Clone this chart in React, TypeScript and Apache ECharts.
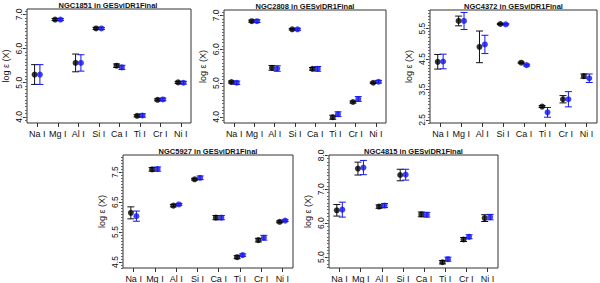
import React, { useEffect, useRef } from "react";
import * as echarts from "echarts";

const categories = ["Na I", "Mg I", "Al I", "Si I", "Ca I", "Ti I", "Cr I", "Ni I"];

const clusterNames = ["NGC1851", "NGC2808", "NGC4372", "NGC5927", "NGC4815"];

const ngc1851Black = [5.24, 6.85, 5.58, 6.59, 5.5, 4.03, 4.5, 5.01];
const ngc1851BlackErr = [0.29, 0.03, 0.26, 0.03, 0.05, 0.03, 0.03, 0.03];
const ngc1851Blue = [5.24, 6.85, 5.58, 6.59, 5.45, 4.04, 4.51, 5.0];
const ngc1851BlueErr = [0.29, 0.03, 0.24, 0.03, 0.06, 0.05, 0.04, 0.04];

const ngc2808Black = [5.03, 6.83, 5.45, 6.59, 5.42, 3.99, 4.44, 5.01];
const ngc2808BlackErr = [0.03, 0.03, 0.07, 0.02, 0.04, 0.06, 0.03, 0.02];
const ngc2808Blue = [5.01, 6.83, 5.43, 6.59, 5.42, 4.08, 4.53, 5.04];
const ngc2808BlueErr = [0.05, 0.04, 0.08, 0.03, 0.07, 0.07, 0.07, 0.04];

const ngc4372Black = [4.41, 5.75, 4.9, 5.65, 4.38, 2.94, 3.18, 3.94];
const ngc4372BlackErr = [0.24, 0.16, 0.52, 0.02, 0.02, 0.03, 0.12, 0.07];
const ngc4372Blue = [4.42, 5.75, 4.98, 5.64, 4.3, 2.75, 3.18, 3.87];
const ngc4372BlueErr = [0.24, 0.28, 0.3, 0.02, 0.03, 0.16, 0.25, 0.14];

const ngc5927Black = [6.14, 7.59, 6.38, 7.26, 5.98, 4.66, 5.23, 5.84];
const ngc5927BlackErr = [0.2, 0.06, 0.04, 0.03, 0.07, 0.05, 0.06, 0.03];
const ngc5927Blue = [6.03, 7.6, 6.42, 7.31, 5.98, 4.73, 5.31, 5.88];
const ngc5927BlueErr = [0.17, 0.07, 0.03, 0.06, 0.07, 0.04, 0.08, 0.03];

const ngc4815Black = [6.38, 7.61, 6.49, 7.42, 6.26, 4.85, 5.52, 6.15];
const ngc4815BlackErr = [0.17, 0.19, 0.05, 0.17, 0.07, 0.05, 0.06, 0.1];
const ngc4815Blue = [6.4, 7.64, 6.52, 7.43, 6.25, 4.94, 5.6, 6.18];
const ngc4815BlueErr = [0.22, 0.21, 0.06, 0.16, 0.07, 0.06, 0.06, 0.08];

const yRanges = [
  [3.82, 7.16],
  [3.82, 7.16],
  [2.4, 6.11],
  [4.3, 8.07],
  [4.68, 8.01],
];
const yTicks = [
  [4, 5, 6, 7],
  [4, 5, 6, 7],
  [2.5, 3.5, 4.5, 5.5],
  [4.5, 5.5, 6.5, 7.5],
  [5, 6, 7, 8],
];

const panelData = [
  [ngc1851Black, ngc1851BlackErr, ngc1851Blue, ngc1851BlueErr],
  [ngc2808Black, ngc2808BlackErr, ngc2808Blue, ngc2808BlueErr],
  [ngc4372Black, ngc4372BlackErr, ngc4372Blue, ngc4372BlueErr],
  [ngc5927Black, ngc5927BlackErr, ngc5927Blue, ngc5927BlueErr],
  [ngc4815Black, ngc4815BlackErr, ngc4815Blue, ngc4815BlueErr],
];

// layout: [left, top, width, height]
const boxes = [
  [25, 9, 166, 114],
  [224, 10, 162, 113],
  [430, 10, 167, 113],
  [123, 155, 170, 113],
  [329, 155, 169, 113],
];

const FONT = "Liberation Sans, Arial, sans-serif";
const BLUE = "#1414f0";
const OFF = 0.13;

function errRender(color: string) {
  return (params: any, api: any) => {
    const x = api.value(0);
    const lo = api.coord([x, api.value(1)]);
    const hi = api.coord([x, api.value(2)]);
    const w = 3.5;
    const st = { stroke: color, lineWidth: 1 };
    return {
      type: "group",
      children: [
        { type: "line", shape: { x1: lo[0], y1: lo[1], x2: hi[0], y2: hi[1] }, style: st },
        { type: "line", shape: { x1: lo[0] - w, y1: lo[1], x2: lo[0] + w, y2: lo[1] }, style: st },
        { type: "line", shape: { x1: hi[0] - w, y1: hi[1], x2: hi[0] + w, y2: hi[1] }, style: st },
      ],
    };
  };
}

export default function App() {
  const ref = useRef<HTMLDivElement>(null);
  useEffect(() => {
    if (!ref.current) return;
    const chart = echarts.init(ref.current, null, { renderer: "svg" });
    const grid: any[] = [];
    const xAxis: any[] = [];
    const yAxis: any[] = [];
    const series: any[] = [];
    const graphic: any[] = [];

    boxes.forEach((b, p) => {
      const [left, top, width, height] = b;
      grid.push({
        left, top, width, height,
        show: true, borderColor: "#333", borderWidth: 1, backgroundColor: "transparent",
        containLabel: false,
      });
      xAxis.push({
        type: "value", gridIndex: p, min: 0.5, max: 8.5, show: false,
      });
      xAxis.push({
        type: "category", gridIndex: p, data: categories, boundaryGap: true, position: "bottom",
        axisLine: { show: false },
        axisTick: { show: true, alignWithLabel: true, length: 4, lineStyle: { color: "#333" } },
        axisLabel: { show: true, interval: 0, color: "#111", fontFamily: FONT, fontSize: 9, margin: 6 },
        splitLine: { show: false },
      });
      const [ymin, ymax] = yRanges[p];
      const minor: number[] = [];
      for (let k = Math.ceil(ymin * 10); k <= Math.floor(ymax * 10); k++) minor.push(k / 10);
      yAxis.push({
        type: "value", gridIndex: p, min: ymin, max: ymax, position: "left",
        name: "log ε (X)", nameLocation: "middle", nameGap: 17,
        nameTextStyle: { fontFamily: FONT, fontSize: 9, color: "#111" },
        axisLine: { show: false },
        axisTick: { show: true, length: 4, customValues: yTicks[p], lineStyle: { color: "#333" } },
        axisLabel: {
          show: true, rotate: 90, customValues: yTicks[p], margin: 4,
          formatter: (v: number) => v.toFixed(1),
          fontFamily: FONT, fontSize: 8.5, color: "#111",
        },
        splitLine: { show: false },
      });
      yAxis.push({
        type: "value", gridIndex: p, min: ymin, max: ymax, position: "left", offset: 0,
        axisLine: { show: false },
        axisTick: { show: true, length: 2, customValues: minor, lineStyle: { color: "#666" } },
        axisLabel: { show: false },
        splitLine: { show: false },
      });
      const xi = p * 2;
      const yi = p * 2;
      const [blk, blkErr, blu, bluErr] = panelData[p];
      series.push({
        type: "custom", xAxisIndex: xi, yAxisIndex: yi,
        renderItem: errRender("#111"),
        encode: { x: 0, y: [1, 2] },
        data: blk.map((v, i) => [i + 1 - OFF, v - blkErr[i], v + blkErr[i]]),
        z: 2,
      });
      series.push({
        type: "custom", xAxisIndex: xi, yAxisIndex: yi,
        renderItem: errRender(BLUE),
        encode: { x: 0, y: [1, 2] },
        data: blu.map((v, i) => [i + 1 + OFF, v - bluErr[i], v + bluErr[i]]),
        z: 2,
      });
      series.push({
        type: "scatter", xAxisIndex: xi, yAxisIndex: yi, symbol: "circle", symbolSize: 6,
        itemStyle: { color: "#000" },
        data: blk.map((v, i) => [i + 1 - OFF, v]), z: 3,
      });
      series.push({
        type: "scatter", xAxisIndex: xi, yAxisIndex: yi, symbol: "circle", symbolSize: 6,
        itemStyle: { color: BLUE },
        data: blu.map((v, i) => [i + 1 + OFF, v]), z: 4,
      });
      graphic.push({
        type: "text",
        x: left + width / 2,
        y: top - 4,
        style: {
          text: clusterNames[p] + " in GESviDR1Final",
          align: "center", verticalAlign: "middle",
          font: `bold 7.5px ${FONT}`, fill: "#111",
        },
      });
    });

    chart.setOption({
      animation: false,
      backgroundColor: "#fff",
      grid, xAxis, yAxis, series, graphic,
    });
    return () => chart.dispose();
  }, []);
  return <div ref={ref} style={{ width: 600, height: 283, position: "absolute", left: 0, top: 0 }} />;
}
